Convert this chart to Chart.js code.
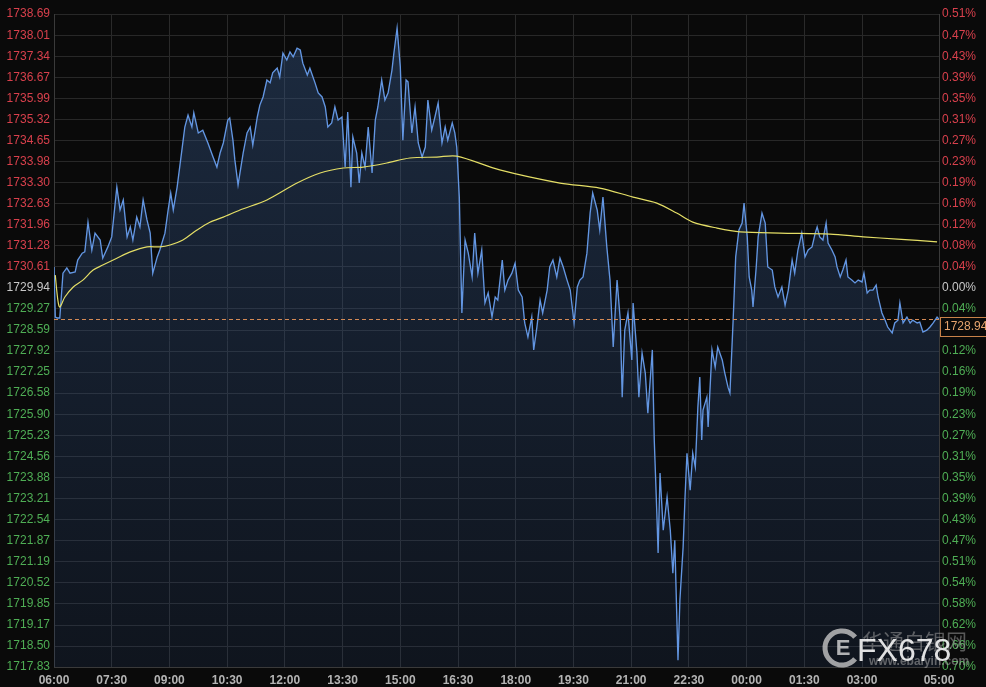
<!DOCTYPE html>
<html>
<head>
<meta charset="utf-8">
<script src="https://cdn.jsdelivr.net/npm/chart.js@4.4.1/dist/chart.umd.min.js"></script>
<style>
html,body{margin:0;padding:0;background:#0a0a0a;}
#wrap{width:986px;height:687px;}
</style>
</head>
<body>
<div id="wrap"><canvas id="c" width="986" height="687"></canvas></div>
<script>
// ---- data ----
const timeTickMinutes = [0,90,180,270,360,450,540,630,720,810,900,990,1080,1170,1260,1380];
const timeTickLabels = ['06:00','07:30','09:00','10:30','12:00','13:30','15:00','16:30','18:00','19:30','21:00','22:30','00:00','01:30','03:00','05:00'];

const leftTickLabels = ['1738.69','1738.01','1737.34','1736.67','1735.99','1735.32','1734.65','1733.98','1733.30','1732.63','1731.96','1731.28','1730.61','1729.94','1729.27','1728.59','1727.92','1727.25','1726.58','1725.90','1725.23','1724.56','1723.88','1723.21','1722.54','1721.87','1721.19','1720.52','1719.85','1719.17','1718.50','1717.83'];
const rightTickLabels = ['0.51%','0.47%','0.43%','0.39%','0.35%','0.31%','0.27%','0.23%','0.19%','0.16%','0.12%','0.08%','0.04%','0.00%','0.04%','0.08%','0.12%','0.16%','0.19%','0.23%','0.27%','0.31%','0.35%','0.39%','0.43%','0.47%','0.51%','0.54%','0.58%','0.62%','0.66%','0.70%'];

const referencePrice = 1729.94;
const lastPrice = 1728.94;
const lastPriceLabel = '1728.94';

// minutes since 06:00
const priceMinutes = [0,2,5,9,14,20,25,33,37,44,48,53,59,64,72,76,84,90,98,103,108,114,119,123,129,134,139,145,150,154,161,165,173,178,182,186,192,200,204,209,215,218,225,232,240,248,254,259,264,271,274,279,282,287,295,301,306,310,317,321,326,332,337,341,348,352,357,363,368,373,379,384,388,395,399,407,412,418,423,427,433,438,443,449,454,458,463,466,472,476,480,485,490,496,501,505,511,516,521,527,530,535,540,544,549,552,558,563,568,574,579,583,589,594,599,605,610,614,621,625,628,632,636,641,646,652,656,661,667,672,677,683,688,692,699,703,708,714,719,724,730,734,739,745,748,753,758,762,769,773,778,784,789,794,800,805,811,816,820,825,831,836,840,847,851,856,862,867,872,878,883,886,890,895,901,903,909,912,917,922,926,933,936,940,942,945,950,956,961,965,968,971,973,976,981,984,987,992,996,1000,1004,1007,1010,1012,1018,1020,1026,1031,1035,1042,1046,1051,1054,1059,1063,1068,1073,1076,1081,1084,1088,1090,1095,1098,1104,1109,1113,1120,1124,1129,1135,1140,1145,1151,1155,1160,1166,1171,1176,1182,1187,1190,1194,1199,1204,1207,1213,1218,1221,1226,1230,1235,1238,1244,1249,1254,1260,1263,1268,1272,1277,1282,1285,1291,1296,1300,1307,1311,1316,1319,1324,1330,1335,1339,1346,1350,1355,1361,1366,1371,1377,1380];
const priceValues = [1730.61,1729.01,1728.98,1728.98,1730.41,1730.58,1730.41,1730.45,1730.83,1731.05,1731.09,1732.04,1731.15,1731.69,1731.47,1730.89,1731.25,1731.57,1733.16,1732.43,1732.75,1731.57,1731.89,1731.47,1732.20,1731.89,1732.75,1732.11,1731.69,1730.41,1730.93,1731.15,1731.69,1732.43,1732.97,1732.43,1733.16,1734.44,1735.08,1735.46,1735.08,1735.53,1734.89,1734.98,1734.57,1734.12,1733.80,1734.25,1734.57,1735.30,1735.37,1734.66,1734.03,1733.23,1734.25,1734.89,1735.08,1734.50,1735.40,1735.78,1736.04,1736.58,1736.49,1736.81,1736.96,1736.68,1737.44,1737.22,1737.48,1737.32,1737.60,1737.54,1737.12,1736.74,1736.96,1736.49,1736.17,1736.04,1735.72,1735.08,1735.21,1735.72,1735.30,1735.40,1733.80,1735.56,1733.16,1734.76,1734.25,1733.29,1734.25,1733.80,1735.08,1733.61,1735.30,1735.72,1736.58,1735.94,1736.17,1736.90,1737.44,1738.24,1737.00,1734.66,1736.58,1736.52,1734.89,1735.72,1734.57,1734.12,1734.44,1735.94,1734.98,1735.40,1735.85,1734.57,1735.08,1734.66,1735.21,1734.89,1734.44,1732.84,1729.14,1731.47,1731.05,1730.29,1731.69,1730.41,1731.15,1729.46,1729.78,1729.01,1729.65,1729.55,1730.83,1729.87,1730.19,1730.41,1730.73,1729.87,1729.65,1728.82,1728.37,1729.01,1727.96,1728.69,1729.55,1729.14,1729.87,1730.61,1730.83,1730.29,1730.89,1730.61,1730.19,1729.87,1728.82,1729.97,1730.19,1730.29,1731.05,1732.33,1732.97,1732.43,1731.79,1732.84,1731.25,1730.19,1728.05,1730.19,1728.91,1726.45,1728.59,1729.14,1727.64,1729.46,1727.86,1726.45,1727.86,1727.22,1725.94,1727.96,1725.08,1722.75,1721.47,1724.03,1722.20,1723.26,1722.20,1720.83,1721.88,1719.55,1718.05,1719.97,1721.66,1723.26,1724.66,1723.48,1724.66,1724.22,1726.13,1727.09,1725.08,1726.04,1726.45,1725.50,1727.96,1727.41,1728.05,1727.64,1727.22,1726.77,1726.58,1728.91,1730.93,1731.79,1732.01,1732.65,1731.57,1730.29,1729.87,1729.33,1730.61,1731.57,1732.33,1732.01,1730.61,1730.51,1729.97,1729.65,1729.97,1729.39,1729.87,1730.83,1730.41,1731.15,1731.69,1730.93,1731.15,1731.25,1731.69,1731.89,1731.57,1731.47,1732.01,1731.37,1731.15,1730.93,1730.61,1730.29,1730.51,1730.83,1730.29,1730.19,1730.10,1730.19,1730.13,1730.41,1729.78,1729.87,1729.87,1730.03,1729.65,1729.14,1728.91,1728.69,1728.50,1728.82,1728.91,1729.46,1728.82,1729.01,1728.82,1728.91,1728.82,1728.85,1728.53,1728.59,1728.69,1728.82,1729.01,1728.94];

const maMinutes = [2,6,9,17,30,45,61,76,98,119,145,165,181,201,223,243,264,290,332,379,415,451,482,519,555,597,628,695,789,851,903,940,971,996,1034,1070,1132,1210,1262,1315,1377];
const maValues = [1730.35,1729.55,1729.33,1729.65,1729.97,1730.19,1730.51,1730.67,1730.89,1731.09,1731.25,1731.25,1731.31,1731.47,1731.79,1732.04,1732.20,1732.43,1732.75,1733.29,1733.61,1733.77,1733.80,1733.93,1734.09,1734.12,1734.15,1733.71,1733.29,1733.13,1732.84,1732.65,1732.33,1732.04,1731.85,1731.73,1731.69,1731.66,1731.57,1731.50,1731.41];

// ---- build ----
const pricePts = priceMinutes.map((m,i)=>({x:m,y:priceValues[i]}));
const maPts = maMinutes.map((m,i)=>({x:m,y:maValues[i]}));
const yTickValues = leftTickLabels.map(parseFloat);
const FONT = "'Liberation Sans', Arial, sans-serif";

function tickColor(v){
  if (Math.abs(v - referencePrice) < 0.005) return '#c8c8c8';
  return v > referencePrice ? '#d8404c' : '#4fae55';
}

const bgPlugin = {
  id:'bg',
  beforeDraw(chart){
    const c = chart.ctx;
    c.save(); c.fillStyle = '#0a0a0a'; c.fillRect(0,0,chart.width,chart.height); c.restore();
  }
};

const overlayPlugin = {
  id:'overlay',
  afterDatasetsDraw(chart){
    const c = chart.ctx, a = chart.chartArea, y = chart.scales.y.getPixelForValue(lastPrice);
    c.save();
    c.strokeStyle = '#d48a55'; c.lineWidth = 1; c.setLineDash([4,3]);
    c.beginPath(); c.moveTo(a.left, Math.round(y)+0.5); c.lineTo(a.right, Math.round(y)+0.5); c.stroke();
    c.restore();
  },
  afterDraw(chart){
    const c = chart.ctx, a = chart.chartArea, y = Math.round(chart.scales.y.getPixelForValue(lastPrice));
    c.save();
    // price label box
    c.fillStyle = '#0a0a0a';
    c.fillRect(a.right+1, y-2, 60, 20);
    c.strokeStyle = '#c8824a'; c.lineWidth = 1;
    c.strokeRect(a.right+1.5, y-1.5, 60, 19);
    c.fillStyle = '#e6a46e'; c.font = '12px ' + FONT; c.textAlign='left'; c.textBaseline='middle';
    c.fillText(lastPriceLabel, a.right+5, y+8);
    // watermark
    c.globalAlpha = 0.55;
    c.fillStyle = '#9a9a9a'; c.font = '21px "Noto Sans CJK SC", sans-serif'; c.textBaseline='middle';
    c.fillText('华通白银网', 862, 641);
    c.font = 'bold 12px ' + FONT; c.fillStyle = '#a8a8a8';
    c.fillText('www.ebaiyin.com', 869, 662);
    c.globalAlpha = 0.8;
    c.strokeStyle = '#c4c4c4'; c.lineWidth = 5;
    c.beginPath(); c.arc(842, 648, 17, 0.22*Math.PI, 1.78*Math.PI); c.stroke();
    c.fillStyle = '#d8d8d8'; c.font = 'bold 22px ' + FONT; c.textAlign='center';
    c.fillText('E', 843, 649);
    c.globalAlpha = 0.92;
    c.fillStyle = '#f2f2f2'; c.font = '32px ' + FONT; c.textAlign='left';
    c.fillText('FX678', 857, 652);
    c.restore();
  }
};

new Chart(document.getElementById('c'), {
  type:'line',
  data:{
    datasets:[
      {
        label:'price', data:pricePts, order:1,
        borderColor:'#6396e2', borderWidth:1.35, pointRadius:0, tension:0,
        fill:'start',
        backgroundColor:(ctx)=>{
          const area = ctx.chart.chartArea;
          if(!area) return 'rgba(40,70,115,0.3)';
          const g = ctx.chart.ctx.createLinearGradient(0, area.top, 0, area.bottom);
          g.addColorStop(0, 'rgba(55,90,140,0.42)');
          g.addColorStop(1, 'rgba(40,70,120,0.18)');
          return g;
        }
      },
      {
        label:'ma', data:maPts, order:0,
        borderColor:'#e4de66', borderWidth:1.2, pointRadius:0, tension:0.3, fill:false
      }
    ]
  },
  options:{
    responsive:false, animation:false, devicePixelRatio:1,
    layout:{padding:{top:14,left:0,right:0,bottom:0}},
    plugins:{legend:{display:false}, tooltip:{enabled:false}},
    scales:{
      x:{
        type:'linear', min:0, max:1380,
        afterBuildTicks:(s)=>{ s.ticks = timeTickMinutes.map(v=>({value:v})); },
        afterFit:(s)=>{ s.height = 20; },
        ticks:{ callback:(v,i)=>timeTickLabels[i], color:'#b4b4b4', font:{size:12, weight:'bold', family:FONT}, maxRotation:0, minRotation:0, autoSkip:false, padding:6 },
        grid:{ color:'#2a2a2a', drawTicks:false },
        border:{ color:'#3a3a3a' }
      },
      y:{
        position:'left', min:1717.83, max:1738.69,
        afterBuildTicks:(s)=>{ s.ticks = yTickValues.map(v=>({value:v})); },
        afterFit:(s)=>{ s.width = 54; },
        ticks:{ callback:(v,i)=>leftTickLabels[i], color:(ctx)=>tickColor(ctx.tick.value), font:{size:12, family:FONT}, padding:4, autoSkip:false },
        grid:{ color:'#282828', drawTicks:false },
        border:{ color:'#3a3a3a' }
      },
      y2:{
        position:'right', min:1717.83, max:1738.69,
        afterBuildTicks:(s)=>{ s.ticks = yTickValues.map(v=>({value:v})); },
        afterFit:(s)=>{ s.width = 47; },
        ticks:{ callback:(v,i)=>rightTickLabels[i], color:(ctx)=>tickColor(ctx.tick.value), font:{size:12, family:FONT}, padding:3, autoSkip:false },
        grid:{ drawOnChartArea:false, drawTicks:false },
        border:{ color:'#3a3a3a' }
      }
    }
  },
  plugins:[bgPlugin, overlayPlugin]
});
</script>
</body>
</html>
